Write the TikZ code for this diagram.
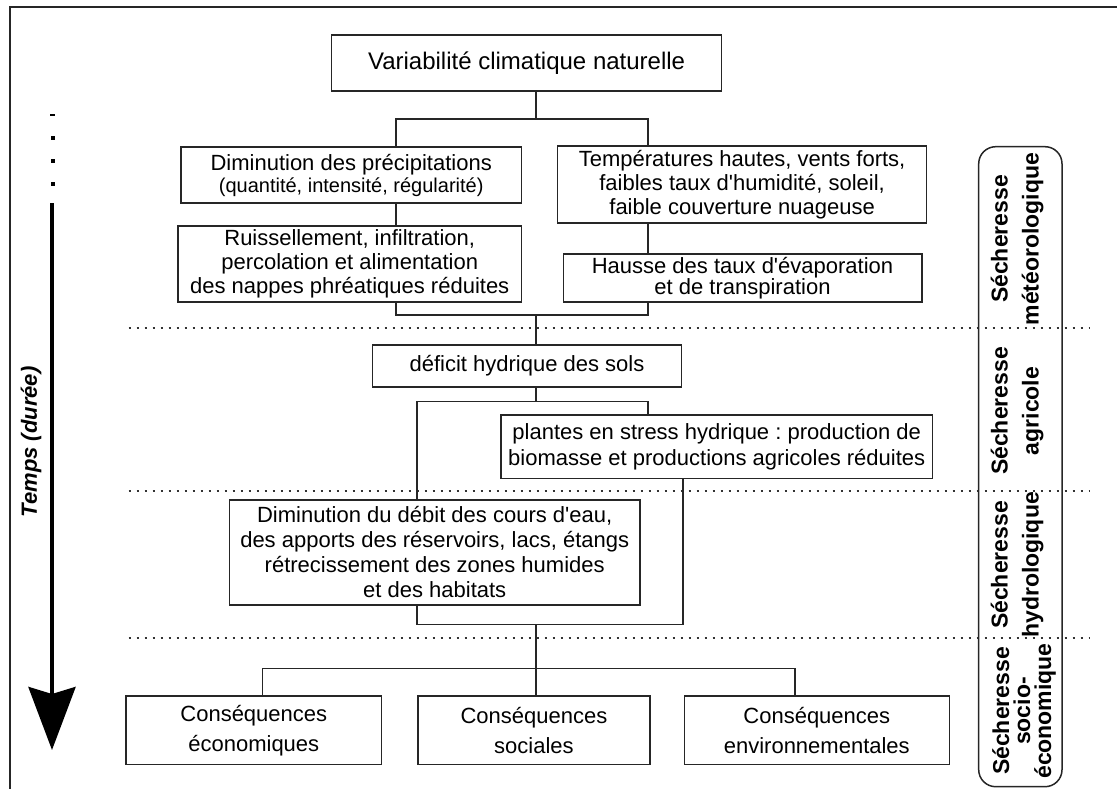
\documentclass[tikz,border=0pt]{standalone}
\usepackage{fontspec}
\setmainfont{Liberation Sans}
\usetikzlibrary{arrows.meta}
\frenchspacing
\def\stemx{536}

\begin{document}
\begin{tikzpicture}[x=1pt, y=-1pt]
    \tikzstyle{box}=[draw=black!85, line width=1.5pt, inner sep=0pt, align=center, font=\fontsize{22}{24}\selectfont]
    \tikzstyle{branch}=[draw=black!85, line width=1.4pt]
    \tikzstyle{layer line}=[draw=black!80, line width=1.2pt, dash pattern=on 2.5pt off 5.5pt]
    \tikzstyle{stage}=[rotate=90, align=center, font=\bfseries\fontsize{23}{31}\selectfont]

    \useasboundingbox (0,0) rectangle (1117,789);

    % Frame
    \draw[line width=2pt, draw=black!85] (9.6,789) -- (9.6,7) -- (1117,7);

    % Draw the boxes
    \node[box, minimum width=389.8, minimum height=56, font=\fontsize{24}{28}\selectfont] (var) at (526.6,63) {Variabilité climatique naturelle};
    \node[box, minimum width=340.4, minimum height=56] (precip) at (351.2,175) {Diminution des précipitations\\[-2pt] \fontsize{20}{22}\selectfont (quantité, intensité, régularité)};
    \node[box, minimum width=343.5, minimum height=76] (ruiss) at (349.7,264) {Ruissellement, infiltration,\\ percolation et alimentation\\ des nappes phréatiques réduites};
    \node[box, minimum width=368.8, minimum height=77] (temp) at (742.1,184.5) {Températures hautes, vents forts,\\ faibles taux d\textquotesingle humidité, soleil,\\ faible couverture nuageuse};
    \node[box, minimum width=358.5, minimum height=48, font=\fontsize{22}{20}\selectfont] (evap) at (742.5,278) {Hausse des taux d\textquotesingle évaporation\\ et de transpiration};
    \node[box, minimum width=309, minimum height=42] (deficit) at (527,366) {déficit hydrique des sols};
    \node[box, minimum width=431.3, minimum height=63.3, font=\fontsize{22}{26}\selectfont] (stress) at (716.7,446.7) {plantes en stress hydrique : production de\\ biomasse et productions agricoles réduites};
    \node[box, minimum width=410.7, minimum height=105, font=\fontsize{22}{25}\selectfont] (debit) at (434.7,552.5) {Diminution du débit des cours d\textquotesingle eau,\\ des apports des réservoirs, lacs, étangs\\ rétrecissement des zones humides\\ et des habitats};

    % Draw the consequences
    \foreach \name / \x / \w / \txt in {1/253.8/255.5/économiques, 2/533.9/231.7/sociales, 3/816.8/265/environnementales}
        \node[box, minimum width=\w, minimum height=68.5, font=\fontsize{22}{30}\selectfont] (C-\name) at (\x,730.3) {Conséquences\\ \txt};

    % Layers
    \foreach \y in {328,491,638}
        \draw[layer line] (128.6,\y) -- (1090,\y);

    % Drought types
    \node[draw=black!85, line width=1.5pt, rounded corners=17pt, minimum width=83.3, minimum height=640, inner sep=0pt] (stages) at (1020.35,466.7) {};
    \node[stage] (meteo) at (1017,239) {Sécheresse\\ météorologique};
    \node[stage] (agri) at (1017,411) {Sécheresse\\ agricole};
    \node[stage] (hydro) at (1017,565) {Sécheresse\\ hydrologique};
    \node[stage, font=\bfseries\fontsize{23}{21}\selectfont] (socio) at (1024,711) {Sécheresse\\ socio-\\ économique};

    % Time arrow
    \fill (50,114) rectangle (55,116.5);
    \foreach \y in {138,161,184}
        \fill (50.5,\y-2) rectangle (54.5,\y+2);
    \coordinate (t0) at (52,203);
    \coordinate (t1) at (52,750);
    \draw[line width=4pt, -{Stealth[length=63pt, width=47pt, inset=7pt]}] (t0) -- (t1);
    \node[rotate=90, font=\bfseries\itshape\fontsize{22}{26}\selectfont] (temps) at (31,442) {Temps (durée)};

    % Connect the boxes
    \coordinate (s1) at (\stemx,119);
    \coordinate (s1l) at (396,119);
    \coordinate (s1r) at (647.8,119);
    \draw[branch] (var.south -| s1) -- (s1);
    \draw[branch] (precip.north -| s1l) |- (s1r) -- (temp.north -| s1r);
    \draw[branch] (precip.south -| s1l) -- (ruiss.north -| s1l);
    \draw[branch] (temp.south -| s1r) -- (evap.north -| s1r);

    \coordinate (m1) at (\stemx,315);
    \draw[branch] (ruiss.south -| s1l) |- (m1 -| s1r) -- (evap.south -| s1r);
    \draw[branch] (m1) -- (deficit.north -| m1);

    \coordinate (s2) at (\stemx,401.7);
    \coordinate (s2l) at (416.8,401.7);
    \coordinate (s2r) at (647.8,401.7);
    \draw[branch] (deficit.south -| s2) -- (s2);
    \draw[branch] (debit.north -| s2l) |- (s2r) -- (stress.north -| s2r);

    \coordinate (m2) at (\stemx,624.5);
    \coordinate (m2r) at (682.8,624.5);
    \draw[branch] (debit.south -| s2l) |- (m2r) -- (stress.south -| m2r);

    \coordinate (s3l) at (262.7,668.3);
    \coordinate (s3r) at (795,668.3);
    \draw[branch] (m2) -- (C-2.north -| m2);
    \draw[branch] (C-1.north -| s3l) |- (s3r) -- (C-3.north -| s3r);

\end{tikzpicture}
\end{document}
